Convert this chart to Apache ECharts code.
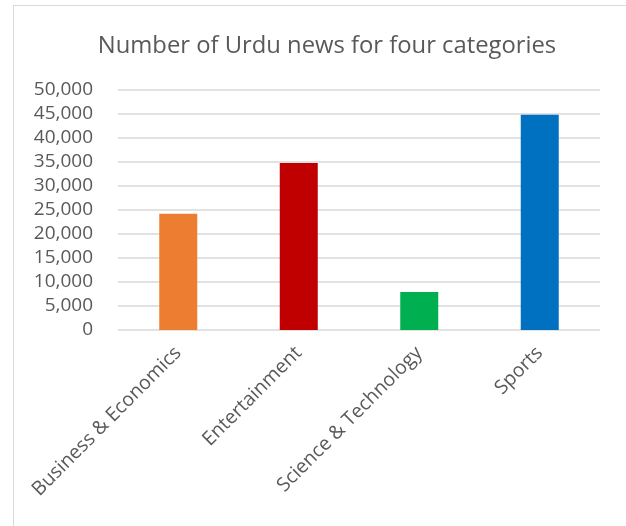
<!DOCTYPE html>
<html lang="en">
<head>
    <meta charset="UTF-8">
    <title>Urdu news categories</title>
    <script src="https://cdn.jsdelivr.net/npm/echarts@6.0.0/dist/echarts.min.js"></script>
    <style>
        body { margin: 0; background: #fff; }
    </style>
</head>
<body>
    <div id="main" style="width:626px;height:526px;"></div>
    <script type="text/javascript">
    // chart data
    var categories = ['Business & Economics', 'Entertainment', 'Science & Technology', 'Sports'];
    var newsCounts = [24200, 34800, 7900, 44850];
    var barColors = ['#ED7D31', '#C00000', '#00B050', '#0070C0'];

    var myChart = echarts.init(document.getElementById('main'));

    var option = {
        backgroundColor: '#fff',
        textStyle: { fontFamily: 'Open Sans' },
        // chart frame, like the excel chart area border
        graphic: [
            { type: 'line', shape: { x1: 13.5, y1: 5, x2: 13.5, y2: 526 }, style: { stroke: '#d9d9d9', lineWidth: 1 } },
            { type: 'line', shape: { x1: 13, y1: 5.5, x2: 626, y2: 5.5 }, style: { stroke: '#d9d9d9', lineWidth: 1 } }
        ],
        title: {
            text: 'Number of Urdu news for four categories',
            left: 322,
            textAlign: 'center',
            top: 29,
            textStyle: { color: '#595959', fontSize: 23.8, fontWeight: 'normal', fontFamily: 'Open Sans' }
        },
        grid: { left: 118, right: 26, top: 90, bottom: 196 },
        xAxis: {
            type: 'category',
            data: categories,
            axisLine: { show: false },
            axisTick: { show: false },
            axisLabel: { rotate: 45, color: '#595959', fontSize: 19.5, margin: 20, interval: 0 }
        },
        yAxis: {
            type: 'value',
            min: 0,
            max: 50000,
            interval: 5000,
            axisLine: { show: false },
            axisTick: { show: false },
            axisLabel: {
                color: '#595959', fontSize: 19, margin: 25,
                formatter: function (v) { return v.toLocaleString('en-US'); }
            },
            splitLine: { lineStyle: { color: '#d9d9d9', width: 1.5 } }
        },
        series: [
            {
                type: 'bar',
                barWidth: 38,
                data: newsCounts.map(function (v, i) {
                    return { value: v, itemStyle: { color: barColors[i] } };
                })
            }
        ]
    };

    myChart.setOption(option);
    </script>
</body>
</html>
